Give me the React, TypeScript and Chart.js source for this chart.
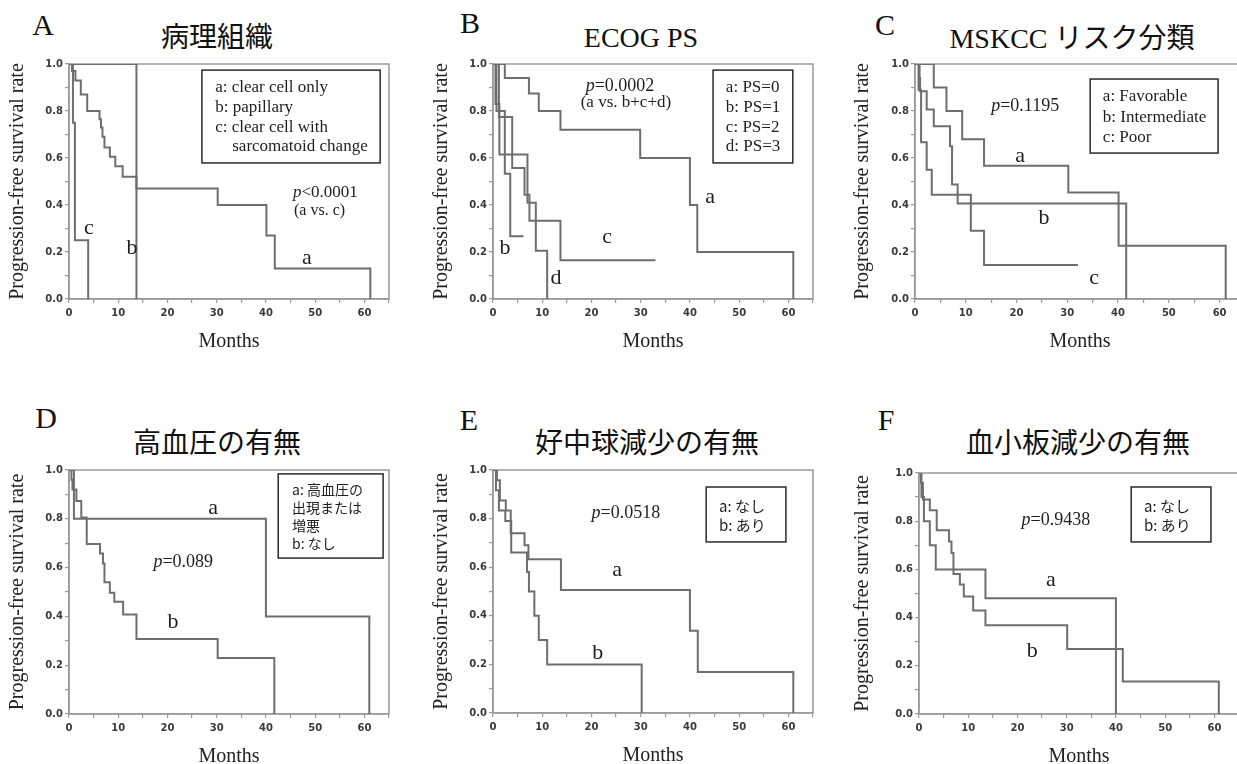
import React, { useEffect, useRef } from 'react';
import { Chart, registerables } from 'chart.js';

Chart.register(...registerables);

// ---------- data (months, progression-free survival) ----------
// Panel A: 病理組織
const A_a_months = [0, 0.6, 1.3, 2.4, 3.7, 6.2, 6.5, 6.8, 7.2, 8.3, 9.4, 10.9, 13.7, 30.2, 40.1, 41.8, 61.2];
const A_a_surv = [1, 0.97, 0.93, 0.87, 0.8, 0.765, 0.73, 0.69, 0.645, 0.605, 0.565, 0.52, 0.47, 0.4, 0.27, 0.13, 0];
const A_b_months = [0, 13.7];
const A_b_surv = [1, 0];
const A_c_months = [0, 0.8, 1.2, 3.9];
const A_c_surv = [1, 0.75, 0.25, 0];

// Panel B: ECOG PS
const B_a_months = [0, 2.4, 7.3, 9.3, 13.7, 29.9, 40.0, 41.5, 61.0];
const B_a_surv = [1, 0.94, 0.875, 0.8, 0.72, 0.6, 0.4, 0.2, 0];
const B_b_months = [0, 0.7, 2.4, 3.5, 6.2];
const B_b_surv = [1, 0.8, 0.533, 0.267, 0.267];
const B_c_months = [0, 1.2, 3.9, 6.4, 7.4, 13.7, 33.0];
const B_c_surv = [1, 0.775, 0.557, 0.444, 0.333, 0.165, 0.165];
const B_d_months = [0, 0.5, 1.3, 7.0, 8.7, 11.0];
const B_d_surv = [1, 0.83, 0.615, 0.41, 0.205, 0];

// Panel C: MSKCC
const C_a_months = [0, 3.7, 6.2, 9.3, 13.6, 30.2, 40.1, 61.2];
const C_a_surv = [1, 0.9, 0.8, 0.68, 0.567, 0.453, 0.227, 0];
const C_b_months = [0, 0.9, 1.0, 2.3, 3.7, 6.9, 7.3, 8.4, 41.6];
const C_b_surv = [1, 0.94, 0.884, 0.806, 0.735, 0.65, 0.487, 0.406, 0];
const C_c_months = [0, 0.7, 1.2, 2.3, 3.3, 11.0, 13.6, 32.1];
const C_c_surv = [1, 0.89, 0.667, 0.55, 0.444, 0.29, 0.145, 0.145];

// Panel D: 高血圧の有無
const D_a_months = [0, 1.0, 40.0, 61.0];
const D_a_surv = [1, 0.8, 0.4, 0];
const D_b_months = [0, 0.5, 0.7, 1.5, 2.5, 3.6, 6.3, 6.9, 7.2, 8.3, 9.2, 11.0, 13.7, 30.2, 41.7];
const D_b_surv = [1, 0.96, 0.92, 0.873, 0.805, 0.697, 0.658, 0.617, 0.54, 0.497, 0.46, 0.408, 0.307, 0.23, 0];

// Panel E: 好中球減少の有無
const E_a_months = [0, 0.8, 1.4, 2.6, 3.6, 6.4, 7.2, 13.8, 40.0, 41.6, 61.0];
const E_a_surv = [1, 0.958, 0.875, 0.833, 0.74, 0.69, 0.633, 0.506, 0.338, 0.169, 0];
const E_b_months = [0, 0.6, 1.2, 2.5, 3.7, 6.9, 7.3, 8.4, 9.3, 11.0, 30.2];
const E_b_surv = [1, 0.917, 0.833, 0.79, 0.66, 0.58, 0.5, 0.4, 0.3, 0.2, 0];

// Panel F: 血小板減少の有無
const F_a_months = [0, 0.5, 1.0, 2.2, 3.4, 13.5, 40.0];
const F_a_surv = [1, 0.9, 0.8, 0.7, 0.6, 0.48, 0];
const F_b_months = [0, 0.4, 0.8, 2.2, 3.6, 6.1, 6.6, 7.0, 8.3, 9.1, 11.0, 13.5, 30.1, 41.4, 60.9];
const F_b_surv = [1, 0.96, 0.89, 0.845, 0.762, 0.716, 0.668, 0.581, 0.537, 0.488, 0.429, 0.368, 0.27, 0.135, 0];

const X_TITLE = 'Months';
const Y_TITLE = 'Progression-free survival rate';

// ---------- styles ----------
const SERIF = '"Liberation Serif", "Times New Roman", serif';
const GOTHIC = '"Noto Sans CJK JP", "Noto Sans", sans-serif';
const SANS = '"DejaVu Sans", Verdana, sans-serif';
const LINE = '#6e6e6e';
const AXIS = '#9a9a9a';

type Series = { months: number[]; surv: number[] };
type Note = { x: number; y: number; text: string; font: string; align: CanvasTextAlign; prefix?: string };
type Legend = { box: [number, number, number, number]; x: number; ys: number[]; lines: string[]; font: string };
type Panel = {
  id: string;
  letter: string; letterX: number; letterY: number;
  title: React.ReactNode; titleX: number; titleY: number;
  left: number; top: number; width: number; height: number; xMax: number; axisW: number;
  series: Series[]; legend: Legend; notes: Note[];
};

const f = (size: number, fam: string = SERIF) => `${size}px ${fam}`;

const panels: Panel[] = [
  {
    id: 'A', letter: 'A', letterX: 43, letterY: 25,
    title: <span style={{ fontFamily: GOTHIC }}>病理組織</span>, titleX: 217, titleY: 36,
    left: 69, top: 64, width: 320, height: 235, xMax: 65, axisW: 66,
    series: [
      { months: A_a_months, surv: A_a_surv },
      { months: A_b_months, surv: A_b_surv },
      { months: A_c_months, surv: A_c_surv },
    ],
    legend: {
      box: [27.0, 63.2, 0.974, 0.579], x: 29.7, ys: [0.898, 0.813, 0.728, 0.647],
      lines: ['a: clear cell only', 'b: papillary', 'c: clear cell with', '    sarcomatoid change'], font: f(17),
    },
    notes: [
      { x: 45.5, y: 0.455, prefix: 'p', text: '<0.0001', font: f(17), align: 'left' },
      { x: 45.7, y: 0.374, text: '(a vs. c)', font: f(16), align: 'left' },
      { x: 4.06, y: 0.302, text: 'c', font: f(22), align: 'center' },
      { x: 12.8, y: 0.217, text: 'b', font: f(22), align: 'center' },
      { x: 48.3, y: 0.174, text: 'a', font: f(22), align: 'center' },
    ],
  },
  {
    id: 'B', letter: 'B', letterX: 470, letterY: 23,
    title: <span style={{ fontFamily: SERIF }}>ECOG PS</span>, titleX: 641, titleY: 38,
    left: 493, top: 64, width: 320, height: 235, xMax: 65, axisW: 66,
    series: [
      { months: B_a_months, surv: B_a_surv },
      { months: B_b_months, surv: B_b_surv },
      { months: B_c_months, surv: B_c_surv },
      { months: B_d_months, surv: B_d_surv },
    ],
    legend: {
      box: [44.7, 60.9, 0.974, 0.579], x: 47.3, ys: [0.898, 0.813, 0.728, 0.647],
      lines: ['a: PS=0', 'b: PS=1', 'c: PS=2', 'd: PS=3'], font: f(17),
    },
    notes: [
      { x: 25.8, y: 0.905, prefix: 'p', text: '=0.0002', font: f(18), align: 'center' },
      { x: 27.0, y: 0.838, text: '(a vs. b+c+d)', font: f(17), align: 'center' },
      { x: 44.1, y: 0.434, text: 'a', font: f(22), align: 'center' },
      { x: 2.44, y: 0.217, text: 'b', font: f(22), align: 'center' },
      { x: 23.2, y: 0.264, text: 'c', font: f(22), align: 'center' },
      { x: 12.8, y: 0.089, text: 'd', font: f(22), align: 'center' },
    ],
  },
  {
    id: 'C', letter: 'C', letterX: 885, letterY: 25,
    title: <><span style={{ fontFamily: SERIF }}>MSKCC </span><span style={{ fontFamily: GOTHIC }}>リスク分類</span></>,
    titleX: 1072, titleY: 37,
    left: 915, top: 64, width: 330, height: 235, xMax: 65, axisW: 67,
    series: [
      { months: C_a_months, surv: C_a_surv },
      { months: C_b_months, surv: C_b_surv },
      { months: C_c_months, surv: C_c_surv },
    ],
    legend: {
      box: [34.5, 59.7, 0.936, 0.621], x: 37.0, ys: [0.86, 0.774, 0.689],
      lines: ['a: Favorable', 'b: Intermediate', 'c: Poor'], font: f(17),
    },
    notes: [
      { x: 21.7, y: 0.821, prefix: 'p', text: '=0.1195', font: f(18), align: 'center' },
      { x: 20.7, y: 0.609, text: 'a', font: f(22), align: 'center' },
      { x: 25.4, y: 0.345, text: 'b', font: f(22), align: 'center' },
      { x: 35.3, y: 0.089, text: 'c', font: f(22), align: 'center' },
    ],
  },
  {
    id: 'D', letter: 'D', letterX: 46, letterY: 418,
    title: <span style={{ fontFamily: GOTHIC }}>高血圧の有無</span>, titleX: 217, titleY: 442,
    left: 69, top: 470, width: 320, height: 244, xMax: 65, axisW: 66,
    series: [
      { months: D_a_months, surv: D_a_surv },
      { months: D_b_months, surv: D_b_surv },
    ],
    legend: {
      box: [42.5, 63.8, 0.984, 0.639], x: 45.3, ys: [0.918, 0.844, 0.77, 0.697],
      lines: ['a: 高血圧の', '出現または', '増悪', 'b: なし'], font: f(14, GOTHIC),
    },
    notes: [
      { x: 23.2, y: 0.623, prefix: 'p', text: '=0.089', font: f(18), align: 'center' },
      { x: 29.3, y: 0.844, text: 'a', font: f(22), align: 'center' },
      { x: 21.1, y: 0.377, text: 'b', font: f(22), align: 'center' },
    ],
  },
  {
    id: 'E', letter: 'E', letterX: 469, letterY: 420,
    title: <span style={{ fontFamily: GOTHIC }}>好中球減少の有無</span>, titleX: 647, titleY: 442,
    left: 493, top: 470, width: 320, height: 243, xMax: 65, axisW: 66,
    series: [
      { months: E_a_months, surv: E_a_surv },
      { months: E_b_months, surv: E_b_surv },
    ],
    legend: {
      box: [43.3, 59.5, 0.93, 0.704], x: 45.9, ys: [0.852, 0.774],
      lines: ['a: なし', 'b: あり'], font: f(15, GOTHIC),
    },
    notes: [
      { x: 27.0, y: 0.823, prefix: 'p', text: '=0.0518', font: f(18), align: 'center' },
      { x: 25.2, y: 0.588, text: 'a', font: f(22), align: 'center' },
      { x: 21.3, y: 0.247, text: 'b', font: f(22), align: 'center' },
    ],
  },
  {
    id: 'F', letter: 'F', letterX: 886, letterY: 420,
    title: <span style={{ fontFamily: GOTHIC }}>血小板減少の有無</span>, titleX: 1078, titleY: 442,
    left: 919, top: 473, width: 320, height: 241, xMax: 65, axisW: 71,
    series: [
      { months: F_a_months, surv: F_a_surv },
      { months: F_b_months, surv: F_b_surv },
    ],
    legend: {
      box: [43.1, 59.3, 0.942, 0.714], x: 45.7, ys: [0.863, 0.784],
      lines: ['a: なし', 'b: あり'], font: f(15, GOTHIC),
    },
    notes: [
      { x: 27.8, y: 0.805, prefix: 'p', text: '=0.9438', font: f(18), align: 'center' },
      { x: 26.8, y: 0.556, text: 'a', font: f(22), align: 'center' },
      { x: 23.0, y: 0.261, text: 'b', font: f(22), align: 'center' },
    ],
  },
];

const PAD_TOP = 8;
const PAD_RIGHT = 10;
const X_AXIS_H = 57;

const framePlugin = {
  id: 'frame',
  beforeDatasetsDraw(chart: any) {
    const { ctx, chartArea } = chart;
    ctx.save();
    ctx.strokeStyle = AXIS;
    ctx.lineWidth = 1.5;
    ctx.strokeRect(chartArea.left, chartArea.top, chartArea.right - chartArea.left, chartArea.bottom - chartArea.top);
    ctx.restore();
  },
};

function notesPlugin(p: Panel) {
  return {
    id: 'notes' + p.id,
    afterDatasetsDraw(chart: any) {
      const { ctx } = chart;
      const xs = chart.scales.x;
      const ys = chart.scales.y;
      ctx.save();
      // legend box
      const [bx0, bx1, by0, by1] = p.legend.box;
      const X0 = xs.getPixelForValue(bx0);
      const X1 = xs.getPixelForValue(bx1);
      const Y0 = ys.getPixelForValue(by0);
      const Y1 = ys.getPixelForValue(by1);
      ctx.fillStyle = '#ffffff';
      ctx.fillRect(X0, Y0, X1 - X0, Y1 - Y0);
      ctx.strokeStyle = '#2a2a2a';
      ctx.lineWidth = 1.5;
      ctx.strokeRect(X0, Y0, X1 - X0, Y1 - Y0);
      ctx.fillStyle = '#1e1e1e';
      ctx.textBaseline = 'middle';
      ctx.textAlign = 'left';
      ctx.font = p.legend.font;
      p.legend.lines.forEach((line, i) => {
        ctx.fillText(line, xs.getPixelForValue(p.legend.x), ys.getPixelForValue(p.legend.ys[i]));
      });
      // notes
      p.notes.forEach((n) => {
        const px = xs.getPixelForValue(n.x);
        const py = ys.getPixelForValue(n.y);
        ctx.font = n.font;
        if (n.prefix) {
          const italic = 'italic ' + n.font;
          ctx.font = italic;
          const wp = ctx.measureText(n.prefix).width;
          ctx.font = n.font;
          const wr = ctx.measureText(n.text).width;
          const start = n.align === 'center' ? px - (wp + wr) / 2 : px;
          ctx.textAlign = 'left';
          ctx.font = italic;
          ctx.fillText(n.prefix, start, py);
          ctx.font = n.font;
          ctx.fillText(n.text, start + wp, py);
        } else {
          ctx.textAlign = n.align;
          ctx.fillText(n.text, px, py);
        }
      });
      ctx.restore();
    },
  };
}

function KMPanel({ p }: { p: Panel }) {
  const ref = useRef<HTMLCanvasElement>(null);
  const cw = p.axisW + p.width + PAD_RIGHT;
  const ch = PAD_TOP + p.height + X_AXIS_H;

  useEffect(() => {
    const canvas = ref.current;
    if (!canvas) return;
    const tickFont = { family: SANS, size: 10, weight: 'bold' as const };
    const titleFont = { family: SERIF, size: 20 };
    const chart = new Chart(canvas, {
      type: 'scatter',
      data: {
        datasets: p.series.map((s) => ({
          data: s.months.map((m, i) => ({ x: m, y: s.surv[i] })),
          showLine: true,
          stepped: 'before' as const,
          borderColor: LINE,
          backgroundColor: LINE,
          borderWidth: 2,
          pointRadius: 0,
          pointHoverRadius: 0,
          fill: false,
        })),
      },
      options: {
        responsive: false,
        maintainAspectRatio: false,
        animation: false,
        devicePixelRatio: 1,
        events: [],
        layout: { padding: { top: PAD_TOP, right: PAD_RIGHT, left: 0, bottom: 0 } },
        plugins: { legend: { display: false }, tooltip: { enabled: false }, title: { display: false } },
        scales: {
          x: {
            type: 'linear',
            min: 0,
            max: p.xMax,
            afterFit: (s: any) => { s.height = X_AXIS_H; },
            ticks: {
              stepSize: 5,
              autoSkip: false,
              includeBounds: false,
              maxRotation: 0,
              minRotation: 0,
              padding: 4,
              color: '#3a3a3a',
              font: tickFont,
              callback: (v: any) => (Math.round(Number(v)) % 10 === 0 ? String(Math.round(Number(v))) : ''),
            },
            grid: { display: true, drawOnChartArea: false, drawTicks: true, tickLength: 4, color: AXIS, lineWidth: 1.2 },
            border: { display: true, color: AXIS, width: 1.5 },
            title: { display: true, text: X_TITLE, color: '#222', font: titleFont, padding: { top: 0, bottom: 2 } },
          },
          y: {
            type: 'linear',
            min: 0,
            max: 1,
            afterFit: (s: any) => { s.width = p.axisW; },
            ticks: {
              stepSize: 0.1,
              autoSkip: false,
              padding: 2,
              color: '#3a3a3a',
              font: tickFont,
              callback: (v: any) => (Math.round(Number(v) * 10) % 2 === 0 ? Number(v).toFixed(1) : ''),
            },
            grid: { display: true, drawOnChartArea: false, drawTicks: true, tickLength: 4, color: AXIS, lineWidth: 1.2 },
            border: { display: true, color: AXIS, width: 1.5 },
            title: { display: true, text: Y_TITLE, color: '#222', font: titleFont, padding: { top: 3, bottom: 0 } },
          },
        },
      },
      plugins: [framePlugin, notesPlugin(p)],
    } as any);
    return () => chart.destroy();
  }, [p]);

  return (
    <canvas
      ref={ref}
      width={cw}
      height={ch}
      style={{ position: 'absolute', left: p.left - p.axisW, top: p.top - PAD_TOP, width: cw, height: ch }}
    />
  );
}

const centered = (x: number, y: number): React.CSSProperties => ({
  position: 'absolute',
  left: x,
  top: y,
  transform: 'translate(-50%, -50%)',
  whiteSpace: 'nowrap',
  lineHeight: 1,
  color: '#111',
});

export default function App() {
  return (
    <div
      style={{
        position: 'absolute',
        left: 0,
        top: 0,
        width: 1237,
        height: 764,
        overflow: 'hidden',
        background: '#ffffff',
      }}
    >
      {panels.map((p) => (
        <React.Fragment key={p.id}>
          <KMPanel p={p} />
          <div style={{ ...centered(p.letterX, p.letterY), fontFamily: SERIF, fontSize: 30 }}>{p.letter}</div>
          <div style={{ ...centered(p.titleX, p.titleY), fontSize: 28 }}>{p.title}</div>
        </React.Fragment>
      ))}
    </div>
  );
}
